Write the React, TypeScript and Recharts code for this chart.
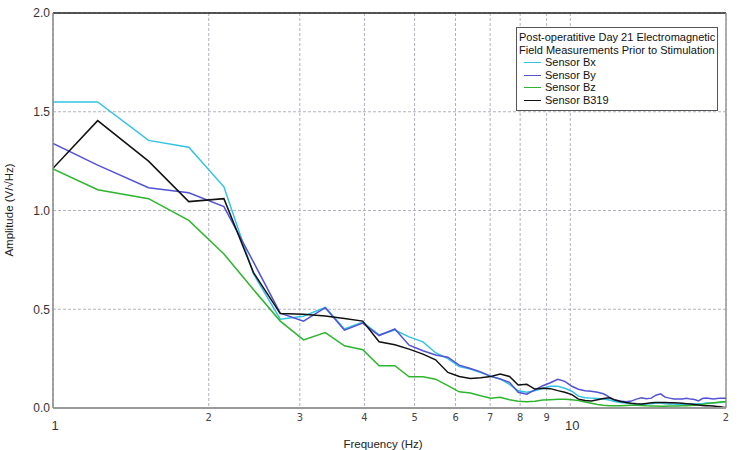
import React from "react";
import {
  LineChart,
  Line,
  XAxis,
  YAxis,
  CartesianGrid,
  Legend,
  ReferenceLine,
} from "recharts";

// frequency bins (Hz)
const freqs = [
  1, 1.22, 1.53, 1.83, 2.14, 2.44, 2.75, 3.05, 3.36, 3.66,
  3.97, 4.27, 4.58, 4.88, 5.19, 5.49, 5.8, 6.1, 6.41, 6.71,
  7.02, 7.32, 7.63, 7.93, 8.24, 8.54, 8.85, 9.15, 9.46, 9.76,
  10.07, 10.37, 10.68, 10.98, 11.29, 11.59, 11.9, 12.2, 12.51, 12.81,
  13.12, 13.42, 13.73, 14.03, 14.34, 14.64, 14.95, 15.25, 15.56, 15.86,
  16.17, 16.47, 16.78, 17.08, 17.39, 17.69, 18.0, 18.3, 18.61, 18.91,
  19.22, 19.52, 19.83, 20,
];

const sensorBx = [
  1.55, 1.55, 1.355, 1.32, 1.12, 0.68, 0.45, 0.465, 0.51, 0.4,
  0.435, 0.37, 0.395, 0.36, 0.335, 0.28, 0.25, 0.21, 0.197, 0.18,
  0.16, 0.147, 0.12, 0.087, 0.08, 0.087, 0.1, 0.11, 0.11, 0.1,
  0.085, 0.06, 0.052, 0.05, 0.048, 0.045, 0.04, 0.033, 0.028, 0.025,
  0.022, 0.02, 0.018, 0.02, 0.022, 0.025, 0.025, 0.022, 0.02, 0.02,
  0.018, 0.018, 0.02, 0.02, 0.02, 0.022, 0.022, 0.025, 0.025, 0.025,
  0.028, 0.028, 0.03, 0.03,
];

const sensorBy = [
  1.34, 1.23, 1.115, 1.09, 1.02, 0.74, 0.48, 0.44, 0.508, 0.394,
  0.43, 0.367, 0.4, 0.318, 0.29, 0.268, 0.257, 0.217, 0.2, 0.183,
  0.16, 0.147, 0.13, 0.08, 0.07, 0.092, 0.113, 0.128, 0.145, 0.135,
  0.11, 0.095, 0.087, 0.085, 0.08, 0.072, 0.055, 0.04, 0.035, 0.032,
  0.035, 0.045, 0.052, 0.047, 0.05, 0.065, 0.072, 0.055, 0.05, 0.046,
  0.046, 0.046, 0.049, 0.045, 0.043, 0.036, 0.048, 0.05, 0.048, 0.046,
  0.048, 0.05, 0.05, 0.05,
];

const sensorBz = [
  1.21, 1.105, 1.06, 0.95, 0.78, 0.6, 0.44, 0.345, 0.382, 0.315,
  0.295, 0.214, 0.214, 0.158, 0.158, 0.146, 0.113, 0.082, 0.076, 0.062,
  0.05, 0.054, 0.042, 0.034, 0.032, 0.034, 0.04, 0.042, 0.044, 0.044,
  0.042, 0.038, 0.03, 0.024, 0.018, 0.014, 0.012, 0.011, 0.012, 0.013,
  0.014, 0.014, 0.013, 0.011, 0.01, 0.01, 0.009, 0.009, 0.01, 0.01,
  0.01, 0.011, 0.012, 0.013, 0.014, 0.016, 0.018, 0.021, 0.024, 0.026,
  0.028, 0.03, 0.032, 0.033,
];

const sensorB319 = [
  1.214, 1.455, 1.25, 1.045, 1.06, 0.687, 0.478, 0.475, 0.466, 0.453,
  0.44, 0.335, 0.32, 0.298, 0.273, 0.244, 0.18, 0.16, 0.15, 0.153,
  0.16, 0.172, 0.16, 0.116, 0.12, 0.096, 0.1, 0.098, 0.088, 0.08,
  0.068, 0.045, 0.038, 0.036, 0.042, 0.048, 0.052, 0.04, 0.033, 0.028,
  0.024, 0.021, 0.02, 0.023, 0.026, 0.028, 0.028, 0.028, 0.027, 0.026,
  0.025, 0.024, 0.022, 0.02, 0.018, 0.015, 0.013, 0.012, 0.011, 0.01,
  0.008, 0.006, 0.003, 0.002,
];

const xTicks = [1, 2, 3, 4, 5, 6, 7, 8, 9, 10, 20];
const xTickLabels = ["1", "2", "3", "4", "5", "6", "7", "8", "9", "10", "2"];
const yTicks = [0, 0.5, 1, 1.5, 2];

const legendTitle = [
  "Post-operatitive Day 21 Electromagnetic",
  "Field Measurements Prior to Stimulation",
];

const series = [
  { key: "bx", name: "Sensor Bx", color: "#33c2e4" },
  { key: "by", name: "Sensor By", color: "#5252d4" },
  { key: "bz", name: "Sensor Bz", color: "#2eb52e" },
  { key: "b319", name: "Sensor B319", color: "#111111" },
];

const data = freqs.map((f, i) => ({
  f,
  bx: sensorBx[i],
  by: sensorBy[i],
  bz: sensorBz[i],
  b319: sensorB319[i],
}));

const FONT = "'Liberation Sans', Arial, sans-serif";
const NARROW = "'Liberation Sans Narrow', 'DejaVu Sans Condensed', Arial, sans-serif";

const FreqTick = (props: any) => {
  const { x, y, payload } = props;
  const i = xTicks.indexOf(payload.value);
  const label = xTickLabels[i];
  const major = payload.value === 1 || payload.value === 10;
  if (major) {
    return (
      <text x={x + 2} y={y + 22} textAnchor="middle" fontSize={13} fontFamily={FONT} fill="#333">
        {label}
      </text>
    );
  }
  return (
    <text x={x} y={y + 13} textAnchor="middle" fontSize={11} fontFamily={NARROW} fill="#444">
      {label}
    </text>
  );
};

const LegendBox = () => (
  <div
    style={{
      width: 202,
      height: 84,
      boxSizing: "border-box",
      border: "1px solid #555",
      background: "#fff",
      padding: "3px 0 0 2px",
      overflow: "hidden",
      whiteSpace: "nowrap",
      fontFamily: FONT,
      fontSize: 11,
      lineHeight: "12.6px",
      color: "#111",
    }}
  >
    {legendTitle.map((t) => (
      <div key={t}>{t}</div>
    ))}
    {series.map((s) => (
      <div key={s.key} style={{ display: "flex", alignItems: "center" }}>
        <span
          style={{
            display: "inline-block",
            width: 17,
            height: 0,
            borderTop: `1.5px solid ${s.color}`,
            marginLeft: 5,
            marginRight: 4,
          }}
        />
        <span>{s.name}</span>
      </div>
    ))}
  </div>
);

export default function App() {
  return (
    <div style={{ position: "absolute", left: 0, top: 0, background: "#fff" }}>
      <LineChart
        width={750}
        height={450}
        data={data}
        margin={{ top: 13, right: 24, bottom: 0, left: 0 }}
      >
        <CartesianGrid stroke="#b2b2bc" strokeDasharray="3 2" />
        <XAxis
          dataKey="f"
          type="number"
          scale="log"
          domain={[1, 20]}
          ticks={xTicks}
          interval={0}
          allowDataOverflow
          height={42}
          tickSize={0}
          tickMargin={0}
          axisLine={{ stroke: "#999", strokeWidth: 2 }}
          tick={<FreqTick />}
          label={{
            content: () => (
              <text x={383} y={448} textAnchor="middle" fontSize={11.5} fontFamily={FONT} fill="#222">
                Frequency (Hz)
              </text>
            ),
          }}
        />
        <YAxis
          type="number"
          domain={[0, 2]}
          ticks={yTicks}
          width={53}
          tickSize={0}
          tickMargin={3}
          axisLine={{ stroke: "#888", strokeWidth: 1.5 }}
          tickFormatter={(v: number) => v.toFixed(1)}
          tick={{ fill: "#333", fontSize: 12, fontFamily: FONT }}
          label={{
            content: () => (
              <text
                x={9}
                y={210}
                transform="rotate(-90 9 210)"
                textAnchor="middle"
                dominantBaseline="central"
                fontSize={11.5}
                fontFamily={FONT}
                fill="#222"
              >
                Amplitude (V/√Hz)
              </text>
            ),
          }}
        />
        <ReferenceLine y={2} stroke="#222" strokeWidth={1.5} />
        <ReferenceLine x={20} stroke="#999" strokeWidth={1.5} />
        {series.map((s) => (
          <Line
            key={s.key}
            dataKey={s.key}
            name={s.name}
            stroke={s.color}
            strokeWidth={1.5}
            dot={false}
            type="linear"
            isAnimationActive={false}
          />
        ))}
        <Legend
          layout="vertical"
          align="center"
          verticalAlign="middle"
          content={<LegendBox />}
          wrapperStyle={{ left: 516, top: 27, width: 202 }}
        />
      </LineChart>
    </div>
  );
}
